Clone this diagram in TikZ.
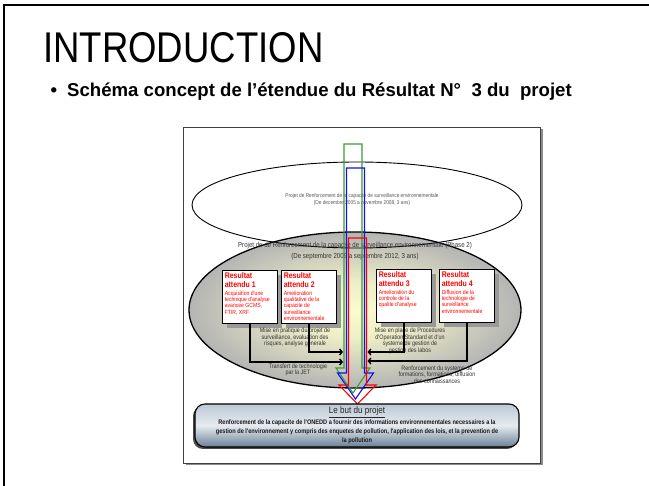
\documentclass[tikz,border=0pt]{standalone}
\usepackage{fontspec}
\setmainfont{Liberation Sans}
\newfontfamily\nf{Liberation Sans}[FakeStretch=0.85]
\usetikzlibrary{arrows.meta,shadows}
\definecolor{grn}{HTML}{3A9E3A}
\definecolor{blu}{HTML}{1010F0}
\definecolor{rd}{HTML}{FF0000}
\definecolor{ellin}{HTML}{FCFCCF}
\definecolor{ellmid}{HTML}{EDEDC8}
\definecolor{ellout}{HTML}{B4B4B4}
\definecolor{gtop}{HTML}{BCC8D4}
\definecolor{gmid}{HTML}{E6EBF0}
\definecolor{gbot}{HTML}{6A8096}
\pgfdeclareradialshading{ellshade}{\pgfpoint{0bp}{0bp}}{color(0bp)=(ellin); color(9bp)=(ellmid); color(25bp)=(ellout); color(50bp)=(ellout)}
\begin{document}
\begin{tikzpicture}[x=1pt,y=-1pt,
  resbox/.style={draw=black, line width=0.8pt, fill=white, minimum width=55pt, minimum height=53pt, inner sep=0pt, anchor=north west,
    general shadow={fill=black!40, shadow xshift=5pt, shadow yshift=-5pt}},
  restitle/.style={anchor=north west, inner sep=2.6pt, align=left, text=rd, font=\nf\bfseries\fontsize{8.2}{9}\selectfont},
  restext/.style={anchor=north west, inner sep=0pt, align=left, text=rd, font=\nf\fontsize{6}{6.3}\selectfont},
  lbl/.style={inner sep=0pt, align=center, text=black!80, font=\nf\fontsize{6.4}{6.6}\selectfont},
  conn/.style={line width=1.4pt, -{Straight Barb[length=2.5pt,width=6pt]}},
  arr/.style={line width=1.1pt}]
\useasboundingbox (0,0) rectangle (649,486);
\fill[white] (0,0) rectangle (649,486);
% slide border
\draw[line width=2.2pt] (4,486) -- (4,5) -- (649,5);
% title and bullet
\node[anchor=base west, inner sep=0pt, font=\nf\fontsize{43}{45}\selectfont] (title) at (43,63) {INTRODUCTION};
\node[anchor=base, inner sep=0pt, font=\bfseries\fontsize{18.6}{20}\selectfont] (bul) at (54,97) {•};
\node[anchor=base west, inner sep=0pt, font=\bfseries\fontsize{18.6}{20}\selectfont] (sub) at (67,97) {Schéma concept de l’étendue du Résultat N°~ 3 du~ projet};
% diagram frame
\fill[black!45] (185.5,129.5) rectangle (542.5,465.5);
\draw[black!75, fill=white, line width=0.8pt] (183,127) rectangle (540,463);
% phase 2 ellipse
\shade[shading=ellshade] (355,310) ellipse [x radius=166, y radius=78];
\draw[line width=1.3pt] (355,310) ellipse [x radius=166, y radius=78];
% phase 1 ellipse
\draw[line width=0.9pt] (357,205) ellipse [x radius=165, y radius=43];
\node[inner sep=0pt, align=center, text=black!65, font=\nf\fontsize{5.6}{7}\selectfont] (ph1) at (362,199.5)
  {Projet de Renforcement de la capacite de surveillance environnementale\\(De decembre 2005 a novembre 2008, 3 ans)};
\node[inner sep=0pt, align=center, text=black!80, font=\nf\fontsize{7.2}{11}\selectfont] (ph2) at (355,251.5)
  {Projet de de Renforcement de la capacite de surveillance environnementale (Phase 2)\\(De septembre 2009 a septembre 2012, 3 ans)};
% result boxes
\node[resbox] (b1) at (222,270) {};
\node[resbox] (b2) at (281,270) {};
\node[resbox] (b3) at (376,269) {};
\node[resbox] (b4) at (439,269) {};
\node[restitle] (t1) at (b1.north west) {Resultat\\attendu 1};
\node[restitle] (t2) at (b2.north west) {Resultat\\attendu 2};
\node[restitle] (t3) at (b3.north west) {Resultat\\attendu 3};
\node[restitle] (t4) at (b4.north west) {Resultat\\attendu 4};
\node[restext] (d1) at ([xshift=2.6pt]t1.south west) {Acquisition d'une\\technique d'analyse\\avancee GCMS,\\FTIR, XRF};
\node[restext] (d2) at ([xshift=2.6pt]t2.south west) {Amelioration\\qualitative de la\\capacite de\\surveillance\\environnementale};
\node[restext] (d3) at ([xshift=2.6pt]t3.south west) {Amelioration du\\controle de la\\qualite d'analyse};
\node[restext] (d4) at ([xshift=2.6pt]t4.south west) {Diffusion de la\\technologie de\\surveillance\\environnementale};
% labels
\node[lbl] (l1) at (295,337.5) {Mise en pratique du projet de\\surveillance, evaluation des\\risques, analyse generale};
\node[lbl] (l2) at (410,341) {Mise en place de Procedures\\d'Operation Standard et d'un\\systeme de gestion de\\gestion des labos};
\node[lbl] (l3) at (298,370) {Transfert de technologie\\par la JET};
\node[lbl] (l4) at (437,374.5) {Renforcement du systeme de\\formations, formations, diffusion\\des connaissances};
% connectors
\coordinate (e1) at (343,362);
\coordinate (e2) at (343,352);
\coordinate (e3) at (367.5,352);
\coordinate (e4) at (367.5,361);
\draw[conn] (b1.south) |- (e1);
\draw[conn] (b2.south) |- (e2);
\draw[conn] (b3.south) |- (e3);
\draw[conn] (b4.south) |- (e4);
% block arrows
\draw[arr, grn, line join=miter] (344,144) -- (362,144) -- (362,368) -- (370,368) -- (353,393) -- (336,368) -- (344,368) -- cycle;
\draw[arr, blu, line join=miter] (346.5,168) -- (364.5,168) -- (364.5,373) -- (373.5,373) -- (355.5,399) -- (337.5,373) -- (346.5,373) -- cycle;
\draw[arr, rd, line join=miter] (348.5,238) -- (366.5,238) -- (366.5,385) -- (376,385) -- (357.5,404) -- (339,385) -- (348.5,385) -- cycle;
% goal box
\fill[black!70, rounded corners=10pt] (193,406) rectangle (517,449);
\node[draw=black, line width=1.1pt, rounded corners=10pt, minimum width=324pt, minimum height=43pt, inner sep=0pt,
  top color=gtop, bottom color=gbot, middle color=gmid] (goal) at (357,425.5) {};
\node[inner sep=0pt, text=black!85, font=\nf\fontsize{9.5}{10}\selectfont] (gt) at (357,412) {\underline{Le but du projet}};
\node[inner sep=0pt, align=center, text=black!90, font=\nf\bfseries\fontsize{6.6}{9}\selectfont] (gb) at (357,431.5)
  {Renforcement de la capacite de l'ONEDD a fournir des informations environnementales necessaires a la\\gestion de l'environnement y compris des enquetes de pollution, l'application des lois, et la prevention de\\la pollution};
\end{tikzpicture}
\end{document}
